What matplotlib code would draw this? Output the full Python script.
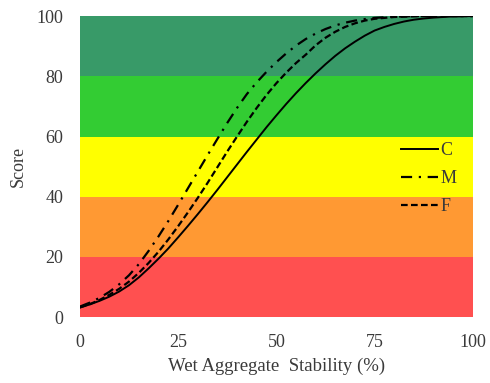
import matplotlib
matplotlib.use("Agg")
import matplotlib.pyplot as plt

# Data
x_vals = [0, 2.5, 5, 7.5, 10, 12.5, 15, 17.5, 20, 22.5, 25, 27.5, 30, 32.5, 35, 37.5,
          40, 42.5, 45, 47.5, 50, 52.5, 55, 57.5, 60, 62.5, 65, 67.5, 70, 72.5, 75,
          77.5, 80, 82.5, 85, 87.5, 90, 95, 100]
C_vals = [3.2, 4.2, 5.4, 6.8, 8.5, 10.6, 13.2, 16.2, 19.4, 22.8, 26.5, 30.3, 34.2, 38.2, 42.3, 46.5,
          50.7, 54.9, 59.0, 63.1, 67.0, 70.8, 74.4, 77.8, 81.0, 84.0, 86.8, 89.3, 91.5, 93.5, 95.2,
          96.4, 97.4, 98.2, 98.8, 99.2, 99.5, 99.9, 100]
M_vals = [3.5, 4.8, 6.4, 8.4, 10.9, 13.9, 17.6, 22.0, 26.8, 31.9, 37.3, 42.8, 48.3, 53.8, 59.2, 64.5,
          69.5, 74.1, 78.0, 81.5, 84.7, 87.6, 90.2, 92.4, 94.2, 95.7, 96.9, 97.8, 98.5, 99.0, 99.4,
          99.6, 99.8, 99.9, 100, 100, 100, 100, 100]
F_vals = [3.2, 4.3, 5.7, 7.4, 9.4, 11.8, 14.7, 18.0, 21.7, 25.8, 30.2, 34.8, 39.6, 44.6, 49.8, 55.0,
          60.0, 64.9, 69.5, 73.8, 77.7, 81.2, 84.4, 87.2, 90.3, 92.8, 94.8, 96.4, 97.6, 98.5, 99.1,
          99.4, 99.7, 99.8, 99.9, 100, 100, 100, 100]

band_edges = [0, 20, 40, 60, 80, 100]
band_colors = ["#ff5050", "#ff9933", "#ffff00", "#33cc33", "#389a68"]
x_ticks = [0, 25, 50, 75, 100]
y_ticks = [0, 20, 40, 60, 80, 100]

plt.rcParams['font.family'] = ['Liberation Serif', 'DejaVu Serif']

fig = plt.figure(figsize=(4.9, 3.83), dpi=100)
ax = fig.add_axes([0.163, 0.172, 0.802, 0.786])

for lo, hi, col in zip(band_edges[:-1], band_edges[1:], band_colors):
    ax.axhspan(lo, hi, color=col, lw=0, zorder=0)

ax.plot(x_vals, C_vals, color="black", lw=1.4, ls="-", label="C", zorder=3)
ax.plot(x_vals, M_vals, color="black", lw=1.6, ls=(0, (5, 3, 1, 3)), label="M", zorder=3)
ax.plot(x_vals, F_vals, color="black", lw=1.6, ls=(0, (3, 1.5)), label="F", zorder=3)

ax.set_xlim(0, 100)
ax.set_ylim(0, 100)
ax.set_xticks(x_ticks)
ax.set_yticks(y_ticks)
ax.tick_params(axis="x", length=0, pad=12, labelsize=13, colors="#3a3a3a")
ax.tick_params(axis="y", length=0, pad=12, labelsize=13, colors="#3a3a3a")
for s in ax.spines.values():
    s.set_visible(False)

ax.set_xlabel("Wet Aggregate  Stability (%)", fontsize=13.5, color="#3a3a3a", labelpad=5)
ax.set_ylabel("Score", fontsize=13, color="#3a3a3a", labelpad=7)

leg = ax.legend(loc="upper left", bbox_to_anchor=(0.80, 0.605), frameon=False,
                borderaxespad=0, handlelength=2.0, handletextpad=0.15,
                labelspacing=0.6, fontsize=13)
for t in leg.get_texts():
    t.set_color("#3a3a3a")

fig.savefig("out.png", dpi=100)
